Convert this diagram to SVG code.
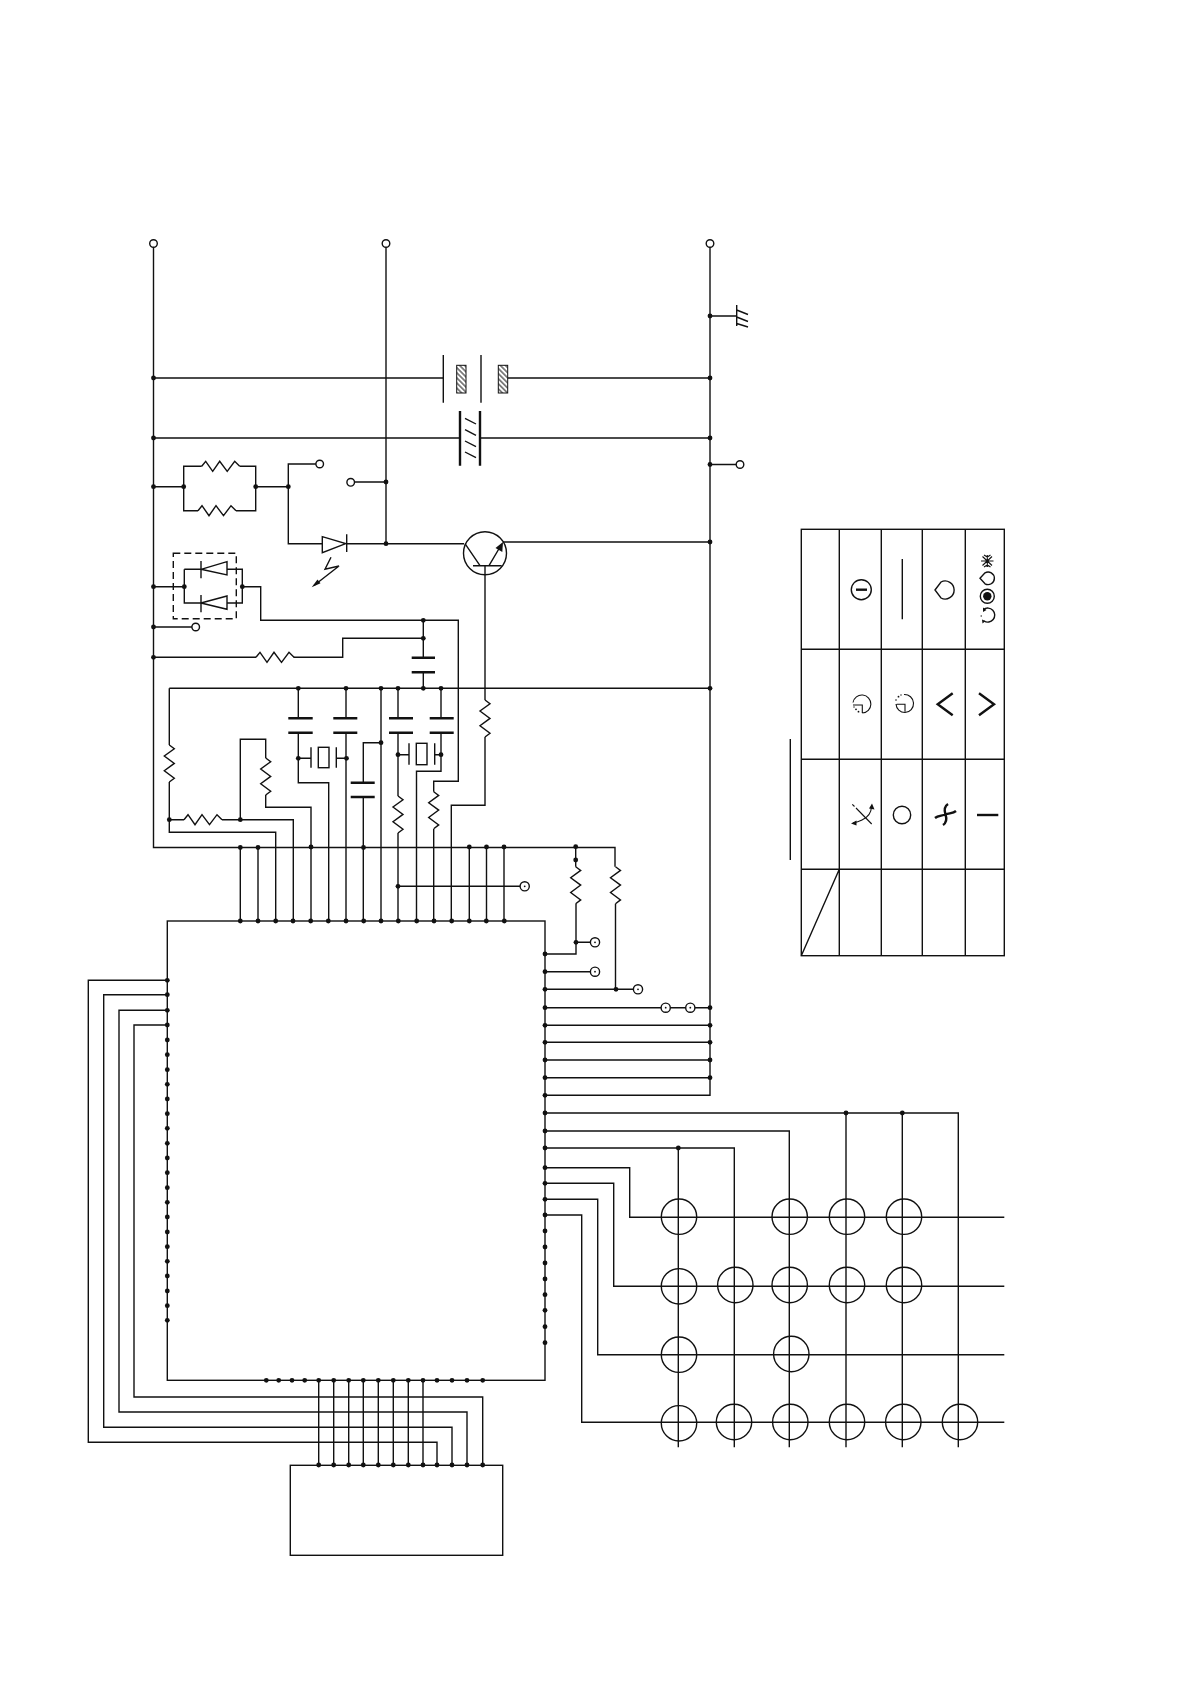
<svg xmlns="http://www.w3.org/2000/svg" width="1190" height="1684" viewBox="0 0 1190 1684">
<style>
.w{fill:none;stroke:#111;stroke-width:1.4}
.i{fill:none;stroke:#111;stroke-width:1.1}
.p{fill:none;stroke:#111;stroke-width:2.4}
.t{fill:#fff;stroke:#111;stroke-width:1.4}
.f{fill:#111;stroke:none}
.c{fill:none;stroke:#111;stroke-width:1.4}
</style>
<defs>
<circle id="d" r="2.4" fill="#111"/>
<path id="rv" class="w" d="M0 0L5 3.7L-5 11L5 18.4L-5 25.8L5 33.2L0 37"/>
<path id="rh" class="w" d="M0 0L4 -5L11 5L18 -5L25.5 5L33 -5L38 0"/>
<g id="o"><circle class="t" r="3.8"/></g>
<g id="od"><circle class="t" r="4.6"/><circle r="0.9" fill="#111"/></g>
<pattern id="hatch" width="3.6" height="3.6" patternUnits="userSpaceOnUse" patternTransform="rotate(45)">
<rect width="3.6" height="3.6" fill="#fff"/><line x1="0" y1="1.8" x2="3.6" y2="1.8" stroke="#111" stroke-width="1"/>
</pattern>
</defs>
<rect width="1190" height="1684" fill="#fff"/>

<g id="connectors">
<path class="w" d="M153.5 247V847.5H615V866.7M615.5 903.7V989.3M386 247V543.7M710 247V1095.3H545
M153.5 378H443.3M507.7 378H710M153.5 438H460M480 438H710M710 316H736.7M710 464.5H736
M153.5 486.7H183.7M183.7 486.7V466.3H201.7M239.7 466.3H255.7V510.7H236M183.7 486.7V510.7H198M255.7 486.7H288.3M316 464H288.3V543.7H322.3
M346.7 543.7H464M347 482H386M503 542H710
M485 565.7V700M485 737V805.3H451.3V921
M153.5 586.7H184.3M184.3 569.3V603H201M184.3 569.3H201M227 569.3H242.3V603H227M242.3 586.7H260.7V620.3H458.3V781.3H433.7V791.7M433.7 829V921
M153.5 627H192M153.5 657.3H256M293.5 657.3H342.7V638.3H423.3M423.3 620.3V657.7M423.3 672.3V688.3
M169.3 688.3H710M169.3 688.3V745M169.3 782V832.3H275.7V921M169.3 819.7H184M222 819.7H293.3V921
M240.3 819.7V739.3H265.7V758M265.7 795V807.3H311V921
M298.3 688.3V718.3M298.3 732.7V782.7H328.7V921M298.3 758.3H311M336.3 758.3H346
M346 688.3V718.3M346 732.7V921
M381 688.3V921M381 742.7H363.3V782.7M363.3 797V921
M398 688.3V718.3M398 732.7V796M398 833V921M398 754.7H409M434.7 754.7H441
M441 688.3V718.3M441 732.7V771.3H416.5V921
M240.3 847.5V921M258 847.5V921M469.3 847.5V921M486.5 847.5V921M504 847.5V921M398 886.3H520
M575.7 846.7V866.7M576 903.7V954H545M576 942.3H591M545 971.7H591M545 989.3H634M545 1007.7H661M670 1007.7H686M694.7 1007.7H710
M545 1025.3H710M545 1042.3H710M545 1060H710M545 1077.7H710
M545 1113H958.3V1447.3M545 1131H789.3V1447.3M545 1148H734.3V1447.3M678.3 1148V1447.3M846 1113V1447.3M902.3 1113V1447.3
M545 1167.7H629.7V1217.3H1004.3M545 1183.3H613.7V1286.3H1004.3M545 1199.3H597.7V1354.7H1004.3M545 1215H581.7V1422.3H1004.3
M167.3 980.3H88.3V1442.3H437V1465.3M167.3 994.7H103.7V1427.3H452V1465.3M167.3 1010.3H119V1412H467V1465.3M167.3 1025H134V1397H482.7V1465.3
M318.7 1380.3V1465.3M333.7 1380.3V1465.3M348.7 1380.3V1465.3M363.3 1380.3V1465.3M378.3 1380.3V1465.3M393.3 1380.3V1465.3M408.3 1380.3V1465.3M423 1380.3V1465.3"/>
<g id="junctions">
<use href="#d" x="153.5" y="378"/><use href="#d" x="153.5" y="438"/><use href="#d" x="153.5" y="486.7"/><use href="#d" x="153.5" y="586.7"/><use href="#d" x="153.5" y="627"/><use href="#d" x="153.5" y="657.3"/>
<use href="#d" x="386" y="482"/><use href="#d" x="386" y="543.7"/>
<use href="#d" x="710" y="316"/><use href="#d" x="710" y="378"/><use href="#d" x="710" y="438"/><use href="#d" x="710" y="464.5"/><use href="#d" x="710" y="542"/><use href="#d" x="710" y="688.3"/>
<use href="#d" x="183.7" y="486.7"/><use href="#d" x="255.7" y="486.7"/><use href="#d" x="288.3" y="486.7"/><use href="#d" x="184.3" y="586.7"/><use href="#d" x="242.3" y="586.7"/>
<use href="#d" x="423.3" y="620.3"/><use href="#d" x="423.3" y="638.3"/><use href="#d" x="298.3" y="688.3"/><use href="#d" x="346" y="688.3"/><use href="#d" x="381" y="688.3"/><use href="#d" x="398" y="688.3"/><use href="#d" x="423.3" y="688.3"/><use href="#d" x="441" y="688.3"/>
<use href="#d" x="381" y="742.7"/><use href="#d" x="298.3" y="758.3"/><use href="#d" x="346.5" y="758.3"/><use href="#d" x="398" y="754.7"/><use href="#d" x="441" y="754.7"/>
<use href="#d" x="169.3" y="819.7"/><use href="#d" x="240.3" y="819.7"/>
<use href="#d" x="240.3" y="847.5"/><use href="#d" x="258" y="847.5"/><use href="#d" x="311" y="847"/><use href="#d" x="363.5" y="847.5"/><use href="#d" x="469.3" y="847"/><use href="#d" x="486.5" y="847"/><use href="#d" x="504" y="847"/><use href="#d" x="575.7" y="846.7"/><use href="#d" x="575.7" y="860"/><use href="#d" x="398" y="886.3"/>
<use href="#d" x="240.3" y="921"/><use href="#d" x="258" y="921"/><use href="#d" x="275.7" y="921"/><use href="#d" x="293" y="921"/><use href="#d" x="310.7" y="921"/><use href="#d" x="328.3" y="921"/><use href="#d" x="346" y="921"/><use href="#d" x="363.7" y="921"/><use href="#d" x="381" y="921"/><use href="#d" x="398.3" y="921"/><use href="#d" x="416.7" y="921"/><use href="#d" x="434" y="921"/><use href="#d" x="451.7" y="921"/><use href="#d" x="469.3" y="921"/><use href="#d" x="486.3" y="921"/><use href="#d" x="504.3" y="921"/>
<use href="#d" x="545" y="954"/><use href="#d" x="545" y="971.7"/><use href="#d" x="545" y="989.3"/><use href="#d" x="545" y="1007.7"/><use href="#d" x="545" y="1025.3"/><use href="#d" x="545" y="1042.3"/><use href="#d" x="545" y="1060"/><use href="#d" x="545" y="1077.7"/><use href="#d" x="545" y="1095.3"/><use href="#d" x="545" y="1113"/><use href="#d" x="545" y="1131"/><use href="#d" x="545" y="1148"/><use href="#d" x="545" y="1167.7"/><use href="#d" x="545" y="1183.3"/><use href="#d" x="545" y="1199.3"/><use href="#d" x="545" y="1215"/><use href="#d" x="545" y="1231"/><use href="#d" x="545" y="1247"/><use href="#d" x="545" y="1263"/><use href="#d" x="545" y="1279"/><use href="#d" x="545" y="1294.7"/><use href="#d" x="545" y="1310.3"/><use href="#d" x="545" y="1326.7"/><use href="#d" x="545" y="1342.7"/>
<use href="#d" x="576" y="942.3"/><use href="#d" x="616" y="989.3"/>
<use href="#d" x="710" y="1007.7"/><use href="#d" x="710" y="1025.3"/><use href="#d" x="710" y="1042.3"/><use href="#d" x="710" y="1060"/><use href="#d" x="710" y="1077.7"/>
<use href="#d" x="846" y="1113"/><use href="#d" x="902.3" y="1113"/><use href="#d" x="678.3" y="1148"/>
<use href="#d" x="167.3" y="980.3"/><use href="#d" x="167.3" y="994.7"/><use href="#d" x="167.3" y="1010.3"/><use href="#d" x="167.3" y="1025"/><use href="#d" x="167.3" y="1040"/><use href="#d" x="167.3" y="1054.7"/><use href="#d" x="167.3" y="1069.7"/><use href="#d" x="167.3" y="1084.3"/><use href="#d" x="167.3" y="1099"/><use href="#d" x="167.3" y="1113.7"/><use href="#d" x="167.3" y="1128.3"/><use href="#d" x="167.3" y="1143.3"/><use href="#d" x="167.3" y="1158"/><use href="#d" x="167.3" y="1172.7"/><use href="#d" x="167.3" y="1187.7"/><use href="#d" x="167.3" y="1202.3"/><use href="#d" x="167.3" y="1217"/><use href="#d" x="167.3" y="1232"/><use href="#d" x="167.3" y="1246.7"/><use href="#d" x="167.3" y="1261.3"/><use href="#d" x="167.3" y="1276"/><use href="#d" x="167.3" y="1291"/><use href="#d" x="167.3" y="1305.7"/><use href="#d" x="167.3" y="1320.3"/>
<use href="#d" x="266.3" y="1380.3"/><use href="#d" x="278.7" y="1380.3"/><use href="#d" x="292" y="1380.3"/><use href="#d" x="304.7" y="1380.3"/><use href="#d" x="318.7" y="1380.3"/><use href="#d" x="333.7" y="1380.3"/><use href="#d" x="348.7" y="1380.3"/><use href="#d" x="363.3" y="1380.3"/><use href="#d" x="378.3" y="1380.3"/><use href="#d" x="393.3" y="1380.3"/><use href="#d" x="408.3" y="1380.3"/><use href="#d" x="423" y="1380.3"/><use href="#d" x="437" y="1380.3"/><use href="#d" x="452" y="1380.3"/><use href="#d" x="467" y="1380.3"/><use href="#d" x="482.7" y="1380.3"/>
<use href="#d" x="318.7" y="1465"/><use href="#d" x="333.7" y="1465"/><use href="#d" x="348.7" y="1465"/><use href="#d" x="363.3" y="1465"/><use href="#d" x="378.3" y="1465"/><use href="#d" x="393.3" y="1465"/><use href="#d" x="408.3" y="1465"/><use href="#d" x="423" y="1465"/><use href="#d" x="437" y="1465"/><use href="#d" x="452" y="1465"/><use href="#d" x="467" y="1465"/><use href="#d" x="482.7" y="1465"/>
</g>
</g>

<g id="chip"><rect class="w" x="167.3" y="921" width="377.7" height="459.3"/></g>
<g id="display"><rect class="w" x="290.3" y="1465.3" width="212.4" height="90"/></g>

<g id="terminals">
<use href="#o" x="153.5" y="243.5"/><use href="#o" x="386" y="243.5"/><use href="#o" x="710" y="243.5"/><use href="#o" x="740" y="464.5"/><use href="#o" x="319.7" y="464"/><use href="#o" x="350.7" y="482.3"/><use href="#o" x="195.7" y="627"/>
<use href="#od" x="524.7" y="886.3"/><use href="#od" x="595" y="942.3"/><use href="#od" x="595" y="971.7"/><use href="#od" x="638" y="989.3"/><use href="#od" x="665.7" y="1007.7"/><use href="#od" x="690.3" y="1007.7"/>
</g>

<g id="ground"><path class="w" d="M736.7 305V326M736.7 310L748 314.5M736.7 317L748 321.5M736.7 323.5L748 327"/></g>
<g id="relay">
<path class="w" d="M443.3 355V402.7M481 355V402.7"/>
<rect x="456.7" y="365.3" width="9.3" height="27.7" fill="url(#hatch)" stroke="#111"/>
<rect x="498.3" y="365.3" width="9.4" height="27.7" fill="url(#hatch)" stroke="#111"/>
</g>
<g id="varistor">
<path class="p" d="M460 411V465.7M480 411V465.7"/>
<path class="w" d="M465 418.3L476 424M465 429.7L476 435.3M465 441L476 446.7M465 452L476 457.7"/>
</g>
<g id="r-parallel"><use href="#rh" x="201.7" y="466.3"/><use href="#rh" x="198" y="510.7"/></g>
<g id="led">
<path class="w" d="M322.3 536.7V552.7L345.7 543.7ZM346.7 534.3V552M331 557.3L325 569.3L339 566L314 585.5"/>
<path class="f" d="M311.7 587.3L317.5 579.5L320.5 583.3Z"/>
</g>
<g id="transistor">
<circle class="w" cx="485" cy="553.3" r="21.5"/>
<path class="w" d="M473 565.7H501.7M465 543.7L480 565.7M489 565.7L500 547"/>
<path class="f" d="M503 542L502.3 552L495.5 548Z"/>
</g>
<g id="diode-pair">
<rect class="w" x="173.3" y="553.3" width="63" height="65.4" stroke-dasharray="7 4"/>
<path class="w" d="M201 561V578.3M227 561.7V575L201 569.3ZM201 595V612.3M227 596V609.3L201 603Z"/>
</g>
<g id="r1"><use href="#rh" x="256" y="657.3"/></g>
<g id="c1"><path class="p" d="M411.7 657.7H435M411.7 672.3H435"/></g>
<g id="c2"><path class="p" d="M288.3 718.3H312.7M288.3 732.7H312.7"/></g>
<g id="c3"><path class="p" d="M333.3 718.3H357.3M333.3 732.7H357.3"/></g>
<g id="c4"><path class="p" d="M389 718.3H413M389 732.7H413"/></g>
<g id="c5"><path class="p" d="M429.7 718.3H453.7M429.7 732.7H453.7"/></g>
<g id="c6"><path class="p" d="M350.7 782.7H374.7M350.7 797H374.7"/></g>
<g id="x1"><path class="w" d="M311 747.3V767.7M336.3 747.3V767.7"/><rect class="w" x="318.3" y="747.3" width="10.7" height="20.4"/></g>
<g id="x2"><path class="w" d="M409 743.3V764.7M434.7 743.3V764.7"/><rect class="w" x="416.3" y="743.3" width="10.7" height="21.4"/></g>
<g id="r2"><use href="#rv" x="169.3" y="745"/></g>
<g id="r3"><use href="#rh" x="184" y="819.7"/></g>
<g id="r4"><use href="#rv" x="265.7" y="758"/></g>
<g id="r5"><use href="#rv" x="485" y="700"/></g>
<g id="r6"><use href="#rv" x="398" y="796"/></g>
<g id="r7"><use href="#rv" x="433.7" y="791.7"/></g>
<g id="r8"><use href="#rv" x="575.7" y="866.7"/></g>
<g id="r9"><use href="#rv" x="615.5" y="866.7"/></g>

<g id="segments" class="c">
<circle cx="679" cy="1216.7" r="17.7"/><circle cx="789.7" cy="1216.7" r="17.7"/><circle cx="847" cy="1216.7" r="17.7"/><circle cx="904" cy="1216.7" r="17.7"/>
<circle cx="679" cy="1286.3" r="17.7"/><circle cx="735.3" cy="1285" r="17.7"/><circle cx="789.7" cy="1285" r="17.7"/><circle cx="847" cy="1285" r="17.7"/><circle cx="904" cy="1285" r="17.7"/>
<circle cx="679" cy="1354.7" r="17.7"/><circle cx="791.3" cy="1354" r="17.7"/>
<circle cx="679" cy="1423.3" r="17.7"/><circle cx="734" cy="1422" r="17.7"/><circle cx="790.3" cy="1422" r="17.7"/><circle cx="847" cy="1422" r="17.7"/><circle cx="903.3" cy="1422" r="17.7"/><circle cx="960" cy="1422" r="17.7"/>
</g>

<g id="table">
<rect class="w" x="801.3" y="529.3" width="203" height="426.4"/>
<path class="w" d="M839.3 529.3V955.7M881.3 529.3V955.7M922.3 529.3V955.7M965.3 529.3V955.7M801.3 649.3H1004.3M801.3 759.3H1004.3M801.3 869.3H1004.3M801.3 955.7L839.3 869.3M790.3 739V860M902.3 559V619.3"/>
<circle class="w" cx="861.3" cy="589.7" r="10"/><path class="p" d="M856 589.7H867"/>
<path class="w" d="M935 590L941 582A9 9 0 1 1 941 598Z"/>
<path class="i" d="M982.5 556.5L992 565.5M982.5 565.5L992 556.5M987.3 555V567M984 555L987.3 557L990.5 555M984 567L987.3 565L990.5 567M981 561H993.5"/>
<path class="w" d="M980 578.3L985 572.8A6.3 6.3 0 1 1 985 583.8Z"/>
<circle class="w" cx="987.3" cy="596.3" r="7"/><circle class="f" cx="987.3" cy="596.3" r="4.2"/>
<path class="w" d="M983.5 609.5A7 7 0 1 1 984 621"/>
<path class="f" d="M983 607.5L986.5 610L983 612ZM982 619.5L985.5 621L982.5 623.5Z"/><circle class="f" cx="981.2" cy="616" r="0.7"/>
<path class="i" d="M862.3 713A9 9 0 1 0 853 702.5M853 705H862.3V713"/>
<circle class="f" cx="856" cy="709.3" r="0.9"/><circle class="f" cx="858.5" cy="711.7" r="0.9"/><circle class="f" cx="854" cy="707" r="0.7"/>
<path class="i" d="M896 704A9 9 0 0 0 905 712.5A9 9 0 1 0 904 694.5M896.7 704.3H905V711.7"/>
<circle class="f" cx="898.5" cy="696.7" r="0.9"/><circle class="f" cx="896" cy="700" r="0.8"/><circle class="f" cx="901" cy="695" r="0.7"/>
<path class="p" d="M952.7 693.3L937.7 704.3L952.7 715.3M979 693.3L994 704.3L979 715.3"/>
<path class="i" d="M852.3 804.3L854.5 806.5M856 808L871.7 824M871.5 807Q871 816 862 820Q858 822 853 823"/>
<path class="f" d="M872 803.5L874.5 809.5L869 808.5ZM851 823.5L856.5 820.5L856.5 825.5Z"/>
<circle class="w" cx="902" cy="815" r="8.7"/>
<path class="p" d="M945.5 814.5C944 810 945 806 948 804M945.5 814.5C949.5 813 953 813.5 956 811M945.5 814.5C947 819 946 823 943 825M945.5 814.5C941.5 816 938 815.5 935 818"/>
<path class="p" d="M977 815H998.3"/>
</g>
</svg>
